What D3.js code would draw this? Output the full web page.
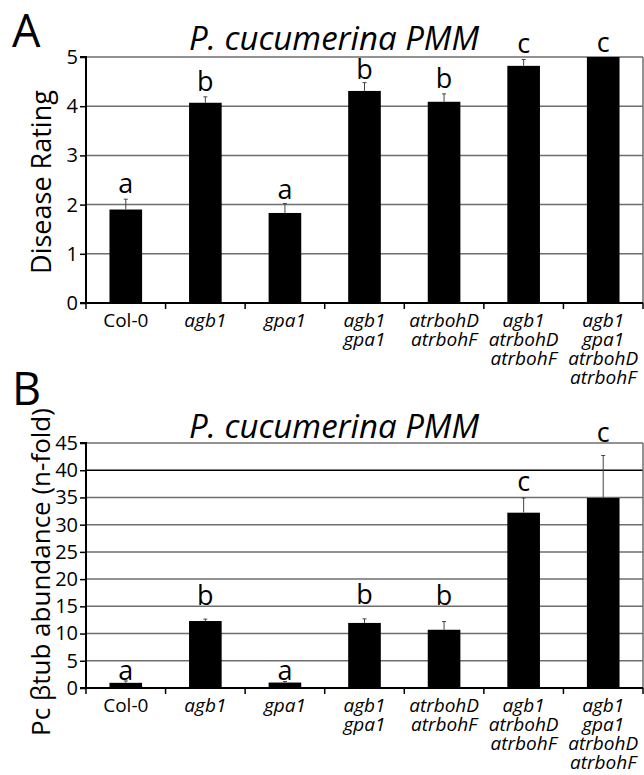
<!DOCTYPE html>
<html><head><meta charset="utf-8">
<script src="https://cdn.jsdelivr.net/npm/d3@7"></script>
<style>body{margin:0;background:#fff}svg{display:block}text{font-family:"Open Sans",sans-serif;fill:#000}</style>
</head><body>
<svg id="c" width="644" height="775"></svg>
<script>
const categories = ["Col-0","agb1","gpa1","agb1 gpa1","atrbohD atrbohF","agb1 atrbohD atrbohF","agb1 gpa1 atrbohD atrbohF"];
const categoryLines = [["Col-0"],["agb1"],["gpa1"],["agb1","gpa1"],["atrbohD","atrbohF"],["agb1","atrbohD","atrbohF"],["agb1","gpa1","atrbohD","atrbohF"]];
const categoryItalic = [false,true,true,true,true,true,true];

const titleText = "P. cucumerina PMM";

// Panel A: disease rating
const diseaseValues = [1.90, 4.07, 1.83, 4.31, 4.09, 4.82, 5.00];
const diseaseErrors = [0.21, 0.12, 0.19, 0.17, 0.16, 0.13, 0.00];
const diseaseLetters = ["a","b","a","b","b","c","c"];
const diseaseLetterAt = [2.24, 4.31, 2.12, 4.55, 4.37, 5.09, 5.11];
const diseaseTicks = [0,1,2,3,4,5];

// Panel B: Pc btub abundance
const tubValues = [0.95, 12.3, 1.0, 11.95, 10.7, 32.2, 34.9];
const tubErrors = [0.35, 0.35, 0.2, 0.75, 1.5, 2.7, 7.8];
const tubLetters = ["a","b","a","b","b","c","c"];
const tubLetterAt = [1.5, 15.2, 1.5, 15.4, 15.2, 36.1, 45.2];
const tubTicks = [0,5,10,15,20,25,30,35,40,45];

const svg = d3.select("#c");
svg.append("rect").attr("width",644).attr("height",775).attr("fill","#fff");

const x = d3.scaleBand().domain(categories).range([86, 643]).padding(0);
const barFrac = 0.41;

function panel(cfg) {
  const y = d3.scaleLinear().domain(cfg.domain).range(cfg.range);
  const g = svg.append("g");
  const x0 = x.range()[0], x1 = x.range()[1];
  g.selectAll("line.grid").data(cfg.ticks.filter(t => t !== 0)).join("line")
    .attr("x1", x0).attr("x2", x1)
    .attr("y1", d => y(d)).attr("y2", d => y(d))
    .attr("stroke", d => d === cfg.darkLine ? "#000" : "#6e6e6e")
    .attr("stroke-width", 1.5);
  g.append("line").attr("x1", x1).attr("x2", x1)
    .attr("y1", y(cfg.domain[1])).attr("y2", y(0))
    .attr("stroke", "#6e6e6e").attr("stroke-width", 1.5);
  const bw = x.bandwidth() * barFrac;
  g.selectAll("rect.bar").data(cfg.values).join("rect")
    .attr("x", (d,i) => x(categories[i]) + x.bandwidth()/2 - bw/2)
    .attr("width", bw)
    .attr("y", d => y(d))
    .attr("height", d => y(0) - y(d))
    .attr("fill", "#000");
  cfg.values.forEach((v,i) => {
    const e = cfg.errors[i];
    if (!e) return;
    const cx = x(categories[i]) + x.bandwidth()/2;
    g.append("line").attr("x1",cx).attr("x2",cx).attr("y1",y(v)).attr("y2",y(v+e))
      .attr("stroke","#444").attr("stroke-width",1);
    g.append("line").attr("x1",cx-2).attr("x2",cx+2).attr("y1",y(v+e)).attr("y2",y(v+e))
      .attr("stroke","#444").attr("stroke-width",1);
  });
  g.selectAll("text.let").data(cfg.letters).join("text")
    .attr("x", (d,i) => x(categories[i]) + x.bandwidth()/2)
    .attr("y", (d,i) => y(cfg.letterAt[i]))
    .attr("text-anchor","middle").attr("font-size", 27)
    .text(d => d);
  const ya = g.append("g").attr("transform", `translate(${x0},0)`)
    .call(d3.axisLeft(y).tickValues(cfg.ticks).tickSize(6).tickPadding(2).tickFormat(d3.format("d")));
  ya.select(".domain").attr("stroke","#000").attr("stroke-width",2).attr("d", `M-6,${y(cfg.domain[1])}H0V${y(0)}`);
  ya.selectAll(".tick line").attr("stroke","#000").attr("stroke-width",1.5);
  ya.selectAll(".tick text").attr("font-size",20).attr("font-family","'Open Sans',sans-serif").attr("fill","#000");
  const boundaries = categories.map(c => x(c)).concat([x1]);
  g.append("line").attr("x1", x0 - 6).attr("x2", x1).attr("y1", y(0)).attr("y2", y(0))
    .attr("stroke","#000").attr("stroke-width",2);
  g.selectAll("line.xt").data(boundaries).join("line")
    .attr("x1", d => d).attr("x2", d => d).attr("y1", y(0)).attr("y2", y(0)+6)
    .attr("stroke","#000").attr("stroke-width",1.5);
  categoryLines.forEach((lines,i) => {
    lines.forEach((ln,j) => {
      g.append("text").attr("text-anchor","middle").attr("font-size",19)
        .attr("font-style", categoryItalic[i] ? "italic" : "normal")
        .attr("x", x(categories[i]) + x.bandwidth()/2)
        .attr("y", y(0) + 24 + j*19).text(ln);
    });
  });
  g.append("text").attr("x", 334).attr("y", cfg.titleY).attr("text-anchor","middle")
    .attr("font-size",33).attr("font-style","italic").text(titleText);
  g.append("text").attr("x", 12).attr("y", cfg.panelY).attr("font-size",45).text(cfg.panel);
  g.append("text").attr("transform", `translate(${cfg.yTitleX},${cfg.yTitleY}) rotate(-90)`)
    .attr("text-anchor","middle").attr("font-size", cfg.yTitleSize).text(cfg.yTitle);
}

panel({domain:[0,5], range:[303,57], ticks:diseaseTicks, values:diseaseValues, errors:diseaseErrors,
  letters:diseaseLetters, letterAt:diseaseLetterAt, titleY:50, panel:"A", panelY:47,
  yTitle:"Disease Rating", yTitleX:51, yTitleY:182, yTitleSize:27, darkLine:null});
panel({domain:[0,45], range:[688,443], ticks:tubTicks, values:tubValues, errors:tubErrors,
  letters:tubLetters, letterAt:tubLetterAt, titleY:438, panel:"B", panelY:405,
  yTitle:"Pc βtub abundance (n-fold)", yTitleX:50, yTitleY:572, yTitleSize:26, darkLine:40});
</script>
</body></html>
